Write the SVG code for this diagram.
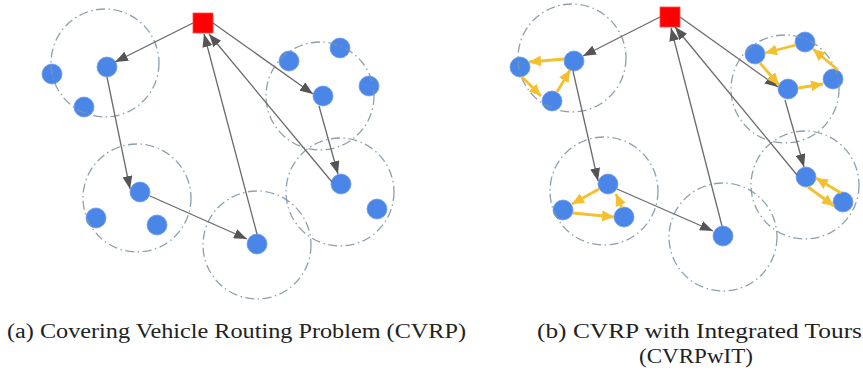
<svg xmlns="http://www.w3.org/2000/svg" width="863" height="374" viewBox="0 0 863 374">
<style>
.zone{fill:none;stroke:#7f96a4;stroke-width:1.3;stroke-dasharray:9 3.5 1.5 3.5;stroke-opacity:0.9}
.cust{fill:#4a86e8;stroke:#6b9cef;stroke-width:0.8}
.depot{fill:#ff0000;stroke:#ff4a4a;stroke-width:0.8}
.route{stroke:#6b6b6b;stroke-width:1.3;fill:none;marker-end:url(#ag)}
.tour{stroke:#f4c030;stroke-width:2.8;fill:none;marker-end:url(#ay)}
.cap{font-family:"Liberation Serif",serif;font-size:20px;fill:#222}
</style>
<defs>
<marker id="ag" viewBox="0 0 13 10" refX="13" refY="5" markerWidth="13" markerHeight="10" markerUnits="userSpaceOnUse" orient="auto"><path d="M0,0 L13,5 L0,10 z" fill="#555"/></marker>
<marker id="ay" viewBox="0 0 12 11" refX="12" refY="5.5" markerWidth="12" markerHeight="11" markerUnits="userSpaceOnUse" orient="auto"><path d="M0,0 L12,5.5 L0,11 z" fill="#f4c030"/></marker>
</defs>

<!-- Left panel -->
<g id="left-nodes">
<g id="L-depot"><rect class="depot" x="193" y="13" width="20" height="20"/></g>
<g id="L-a1"><circle class="cust" cx="107" cy="67" r="10"/></g>
<g id="L-a2"><circle class="cust" cx="52" cy="74" r="10"/></g>
<g id="L-a3"><circle class="cust" cx="84" cy="107" r="10"/></g>
<g id="L-b1"><circle class="cust" cx="289" cy="61" r="10"/></g>
<g id="L-b2"><circle class="cust" cx="340" cy="48" r="10"/></g>
<g id="L-b3"><circle class="cust" cx="369" cy="86" r="10"/></g>
<g id="L-b4"><circle class="cust" cx="323" cy="96" r="10"/></g>
<g id="L-c1"><circle class="cust" cx="341" cy="184" r="10"/></g>
<g id="L-c2"><circle class="cust" cx="377" cy="209" r="10"/></g>
<g id="L-d1"><circle class="cust" cx="257" cy="244" r="10"/></g>
<g id="L-e1"><circle class="cust" cx="140" cy="192" r="10"/></g>
<g id="L-e2"><circle class="cust" cx="96" cy="218" r="10"/></g>
<g id="L-e3"><circle class="cust" cx="157" cy="225" r="10"/></g>
</g>
<g id="left-zones">
<circle class="zone" cx="105" cy="63" r="54"/>
<circle class="zone" cx="320" cy="96" r="54"/>
<circle class="zone" cx="340" cy="192" r="54"/>
<circle class="zone" cx="257" cy="245" r="54"/>
<circle class="zone" cx="137" cy="198" r="54"/>
</g>
<g id="left-connectors">
<line class="route" x1="193" y1="23" x2="115" y2="62"/>
<line class="route" x1="107" y1="77" x2="130" y2="189"/>
<line class="route" x1="150" y1="196" x2="247" y2="239"/>
<line class="route" x1="257" y1="234" x2="204" y2="34"/>
<line class="route" x1="213" y1="23" x2="313" y2="94"/>
<line class="route" x1="319" y1="106" x2="338" y2="174"/>
<line class="route" x1="332" y1="182" x2="209" y2="34"/>
</g>

<!-- Right panel -->
<g id="right-nodes">
<g id="R-depot"><rect class="depot" x="660" y="7" width="20" height="20"/></g>
<g id="R-a1"><circle class="cust" cx="574" cy="61" r="10"/></g>
<g id="R-a2"><circle class="cust" cx="520" cy="67" r="10"/></g>
<g id="R-a3"><circle class="cust" cx="552" cy="101" r="10"/></g>
<g id="R-b1"><circle class="cust" cx="755" cy="54" r="10"/></g>
<g id="R-b2"><circle class="cust" cx="805" cy="42" r="10"/></g>
<g id="R-b3"><circle class="cust" cx="833" cy="79" r="10"/></g>
<g id="R-b4"><circle class="cust" cx="788" cy="89" r="10"/></g>
<g id="R-c1"><circle class="cust" cx="806" cy="177" r="10"/></g>
<g id="R-c2"><circle class="cust" cx="843" cy="202" r="10"/></g>
<g id="R-d1"><circle class="cust" cx="723" cy="236" r="10"/></g>
<g id="R-e1"><circle class="cust" cx="608" cy="184" r="10"/></g>
<g id="R-e2"><circle class="cust" cx="563" cy="210" r="10"/></g>
<g id="R-e3"><circle class="cust" cx="624" cy="217" r="10"/></g>
</g>
<g id="right-zones">
<circle class="zone" cx="572" cy="58" r="54"/>
<circle class="zone" cx="785" cy="89" r="54"/>
<circle class="zone" cx="805" cy="185" r="54"/>
<circle class="zone" cx="723" cy="237" r="54"/>
<circle class="zone" cx="604" cy="191" r="54"/>
</g>
<g id="right-connectors">
<line class="route" x1="660" y1="17" x2="583" y2="56"/>
<line class="route" x1="573" y1="71" x2="598" y2="181"/>
<line class="route" x1="617" y1="189" x2="713" y2="231"/>
<line class="route" x1="722" y1="226" x2="671" y2="28"/>
<line class="route" x1="680" y1="17" x2="778" y2="87"/>
<line class="route" x1="785" y1="100" x2="804" y2="167"/>
<line class="route" x1="797" y1="175" x2="675" y2="27"/>
<line class="tour" x1="564" y1="59" x2="529" y2="62"/>
<line class="tour" x1="522" y1="77" x2="541" y2="96"/>
<line class="tour" x1="557" y1="92" x2="570" y2="70"/>
<line class="tour" x1="796" y1="45" x2="765" y2="53"/>
<line class="tour" x1="760" y1="63" x2="779" y2="85"/>
<line class="tour" x1="798" y1="88" x2="823" y2="84"/>
<line class="tour" x1="838" y1="70" x2="813" y2="49"/>
<line class="tour" x1="841" y1="193" x2="816" y2="178"/>
<line class="tour" x1="808" y1="187" x2="834" y2="206"/>
<line class="tour" x1="599" y1="189" x2="572" y2="204"/>
<line class="tour" x1="573" y1="213" x2="614" y2="217"/>
<line class="tour" x1="622" y1="208" x2="616" y2="194"/>
</g>

<g id="captions">
<text class="cap" x="7" y="338" textLength="459" lengthAdjust="spacingAndGlyphs">(a) Covering Vehicle Routing Problem (CVRP)</text>
<text class="cap" x="537" y="338" textLength="325" lengthAdjust="spacingAndGlyphs">(b) CVRP with Integrated Tours</text>
<text class="cap" x="639" y="363" textLength="114" lengthAdjust="spacingAndGlyphs">(CVRPwIT)</text>
</g>
</svg>
